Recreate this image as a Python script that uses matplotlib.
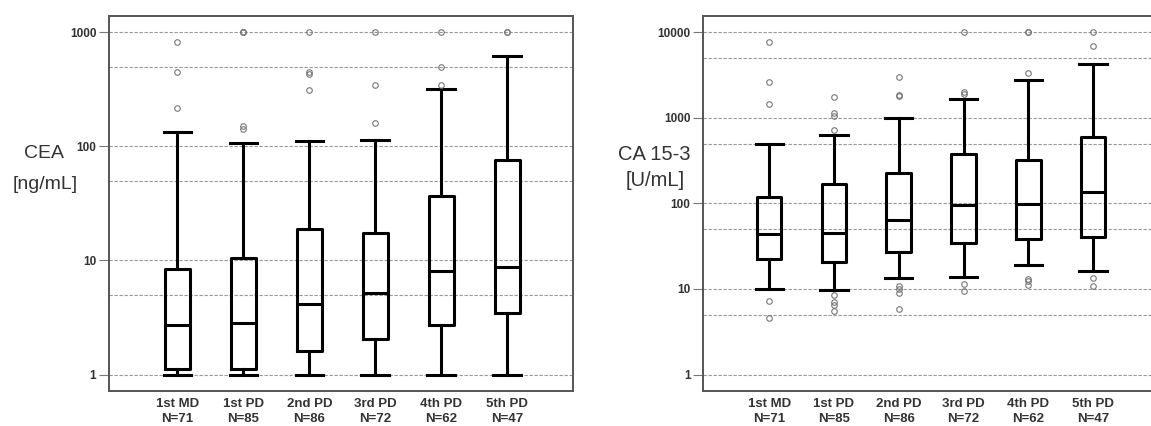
import matplotlib
matplotlib.use('Agg')
import matplotlib.pyplot as plt
from matplotlib.ticker import FixedLocator, NullFormatter

plt.rcParams['font.family'] = ['Liberation Sans', 'DejaVu Sans']

# Categories
groups = ['1st MD\nN=71', '1st PD\nN=85', '2nd PD\nN=86',
          '3rd PD\nN=72', '4th PD\nN=62', '5th PD\nN=47']

# CEA [ng/mL] box statistics
cea_whislo = [1.0, 1.0, 1.0, 1.0, 1.0, 1.0]
cea_q1 = [1.11, 1.11, 1.62, 2.05, 2.72, 3.44]
cea_med = [2.72, 2.81, 4.15, 5.15, 8.13, 8.81]
cea_q3 = [8.36, 10.6, 18.7, 17.3, 36.7, 75.9]
cea_whishi = [134, 108, 111, 114, 318, 620]
cea_fliers = [[827, 449, 218],
              [1000, 1000, 1000, 151, 143],
              [1000, 449, 430, 312],
              [1000, 347, 161],
              [1000, 493, 347],
              [1000, 1000]]

# CA 15-3 [U/mL] box statistics
ca_whislo = [9.86, 9.7, 13.3, 13.9, 19.0, 16.3]
ca_q1 = [22.5, 20.7, 26.7, 34.6, 38.5, 40.7]
ca_med = [43.7, 44.6, 63.8, 95.5, 97.3, 137]
ca_q3 = [117.5, 167, 228, 374, 321, 601]
ca_whishi = [490, 629, 995, 1672, 2740, 4230]
ca_fliers = [[7640, 2600, 1450, 7.2, 4.52],
             [1740, 1148, 1050, 720, 8.5, 7.06, 6.5, 5.55],
             [3030, 1862, 1800, 10.9, 9.9, 8.85, 5.8],
             [10000, 2020, 1900, 11.4, 9.4],
             [10000, 10000, 3370, 12.9, 12.3, 11.1],
             [10000, 6920, 13.6, 10.8]]

cea_major = [1, 10, 100, 1000]
cea_minor = [5, 50, 500]
ca_major = [1, 10, 100, 1000, 10000]
ca_minor = [5, 50, 500, 5000]


def make_stats(lo, q1, med, q3, hi, fl):
    return [dict(whislo=lo[i], q1=q1[i], med=med[i], q3=q3[i], whishi=hi[i],
                 fliers=fl[i], label=groups[i]) for i in range(len(groups))]


def draw_panel(ax, stats, major, minor, ylim, xlim):
    ax.set_yscale('log')
    line = dict(color='black', linewidth=2.2)
    ax.bxp(stats, positions=range(1, len(stats) + 1), widths=0.38, capwidths=0.42,
           boxprops=line, whiskerprops=line, capprops=line, medianprops=line,
           flierprops=dict(marker='o', markerfacecolor='none', markeredgecolor='#777777',
                           markersize=4, markeredgewidth=0.8),
           showfliers=True, zorder=3)
    ax.set_ylim(*ylim)
    ax.set_xlim(*xlim)
    ax.yaxis.set_major_locator(FixedLocator(major))
    ax.yaxis.set_minor_locator(FixedLocator(minor))
    ax.yaxis.set_major_formatter(plt.FuncFormatter(lambda v, p: f'{int(v)}'))
    ax.yaxis.set_minor_formatter(NullFormatter())
    ax.grid(True, which='both', axis='y', color='#999999', linestyle=(0, (3, 1.5)), linewidth=0.8)
    ax.set_axisbelow(True)
    ax.tick_params(axis='y', which='major', length=7, width=0.8, color='#777777', pad=2,
                   labelsize=8.5, labelcolor='#333333')
    ax.tick_params(axis='y', which='minor', length=0)
    ax.tick_params(axis='x', length=0, pad=5, labelsize=9.5, labelcolor='#333333')
    for lab in ax.get_xticklabels() + ax.get_yticklabels():
        lab.set_fontweight('bold')
        lab.set_linespacing(1.25)
    for s in ax.spines.values():
        s.set_color('#555555')
        s.set_linewidth(1.4)


fig = plt.figure(figsize=(11.51, 4.26), dpi=100)
ax1 = fig.add_axes([0.0945, 0.081, 0.4036, 0.8826])
ax2 = fig.add_axes([0.6108, 0.081, 0.398, 0.8826])

draw_panel(ax1, make_stats(cea_whislo, cea_q1, cea_med, cea_q3, cea_whishi, cea_fliers),
           cea_major, cea_minor, (0.71, 1403), (-0.04, 7.0))
draw_panel(ax2, make_stats(ca_whislo, ca_q1, ca_med, ca_q3, ca_whishi, ca_fliers),
           ca_major, ca_minor, (0.633, 15710), (-0.02, 7.05))

fig.text(44 / 1151, 1 - 153 / 426, 'CEA', ha='center', va='center', fontsize=14, color='#333333')
fig.text(45 / 1151, 1 - 185 / 426, '[ng/mL]', ha='center', va='center', fontsize=14, color='#333333')
fig.text(654 / 1151, 1 - 154 / 426, 'CA 15-3', ha='center', va='center', fontsize=14.5, color='#333333')
fig.text(655 / 1151, 1 - 180 / 426, '[U/mL]', ha='center', va='center', fontsize=14.5, color='#333333')

fig.savefig('out.png', dpi=100)
